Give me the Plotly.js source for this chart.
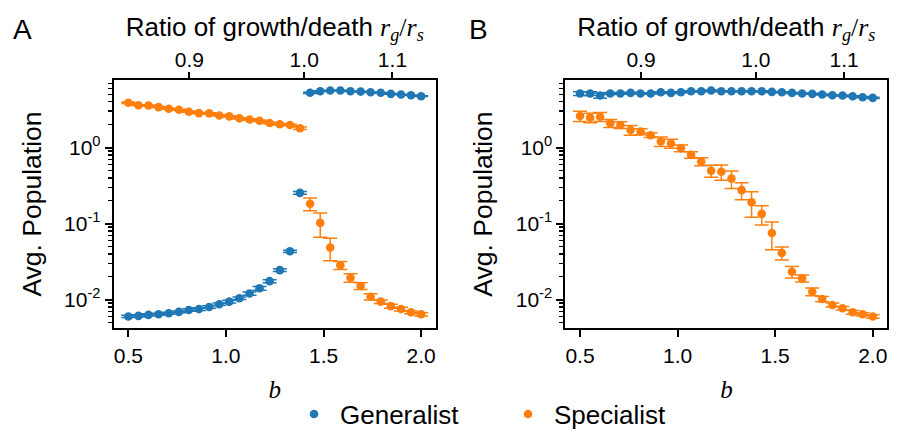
<!DOCTYPE html>
<html>
<head>
<meta charset="utf-8">
<script src="https://cdn.plot.ly/plotly-3.0.1.min.js"></script>
<style>html,body{margin:0;padding:0;background:#fff;}#chart{width:898px;height:438px;}</style>
</head>
<body>
<div id="chart"></div>
<script>
// ---- data ----
const bVals = [0.500,0.552,0.603,0.655,0.707,0.759,0.810,0.862,0.914,0.966,1.017,1.069,1.121,1.172,1.224,1.276,1.328,1.379,1.431,1.483,1.534,1.586,1.638,1.690,1.741,1.793,1.845,1.897,1.948,2.000];

const genA = [0.0060,0.0061,0.0063,0.0064,0.0066,0.0069,0.0073,0.0075,0.0080,0.0087,0.0094,0.0104,0.0120,0.0141,0.0175,0.0244,0.0432,0.253,5.24,5.50,5.61,5.61,5.50,5.44,5.33,5.24,5.08,4.98,4.87,4.73];
const genAErr = [0.0002,0.0002,0.0002,0.0002,0.0002,0.0002,0.0003,0.0003,0.0003,0.0003,0.0004,0.0004,0.0006,0.0008,0.0008,0.0010,0.0015,0.010,0.10,0.06,0.05,0.05,0.05,0.05,0.05,0.05,0.05,0.05,0.05,0.05];
const specA = [3.88,3.60,3.57,3.40,3.24,3.14,2.96,2.83,2.81,2.64,2.57,2.42,2.34,2.25,2.10,2.02,1.98,1.79,0.182,0.102,0.0483,0.0283,0.0194,0.0151,0.0109,0.0094,0.0082,0.0075,0.0068,0.0064];
const specAErr = [0.10,0.05,0.05,0.05,0.05,0.05,0.05,0.05,0.05,0.05,0.05,0.05,0.05,0.05,0.05,0.05,0.05,0.07,0.035,0.036,0.016,0.0035,0.0025,0.0015,0.0010,0.0005,0.0005,0.0004,0.0003,0.0003];

const genB = [5.13,5.13,4.83,5.13,5.13,5.23,5.13,5.13,5.34,5.23,5.34,5.50,5.50,5.61,5.50,5.50,5.50,5.50,5.50,5.39,5.34,5.23,5.13,5.08,4.97,4.87,4.83,4.73,4.59,4.50];
const genBErr = [0.30,0.30,0.40,0.15,0.10,0.10,0.08,0.08,0.08,0.08,0.08,0.08,0.08,0.08,0.08,0.08,0.08,0.08,0.08,0.08,0.08,0.08,0.08,0.08,0.08,0.08,0.08,0.08,0.08,0.08];
const specB = [2.59,2.47,2.54,2.08,1.98,1.70,1.62,1.45,1.20,1.13,0.98,0.80,0.656,0.495,0.48,0.39,0.275,0.191,0.134,0.0751,0.0411,0.0232,0.0190,0.0127,0.0102,0.0085,0.0077,0.0068,0.0064,0.0060];
const specBErr = [0.40,0.35,0.35,0.25,0.20,0.25,0.15,0.10,0.17,0.15,0.10,0.08,0.08,0.09,0.11,0.10,0.07,0.07,0.038,0.030,0.008,0.004,0.002,0.0015,0.0008,0.0005,0.0004,0.0004,0.0003,0.0003];

const xTickVals = [0.5,1.0,1.5,2.0];
const xTickText = ['0.5','1.0','1.5','2.0'];
const ratioTickPos = [0.8125,1.401,1.853];
const ratioTickText = ['0.9','1.0','1.1'];
const yTickVals = [0.01,0.1,1];
const yTickText = ['10<sup>-2</sup>','10<sup>-1</sup>','10<sup>0</sup>'];
const yMinorVals = [0.005,0.006,0.007,0.008,0.009,0.02,0.03,0.04,0.05,0.06,0.07,0.08,0.09,0.2,0.3,0.4,0.5,0.6,0.7,0.8,0.9,2,3,4,5,6,7];

// ---- style ----
const BLUE = '#1f77b4', ORANGE = '#ff7f0e';
const FONT = 'Liberation Sans, Arial, sans-serif';
const SERIF = 'Liberation Serif, DejaVu Serif, serif';

function series(x, y, err, color, name, xa, ya, showlegend) {
  return {
    type: 'scatter', mode: 'markers', x: x, y: y, name: name,
    xaxis: xa, yaxis: ya, showlegend: showlegend, legendgroup: name,
    marker: {color: color, size: 8.6},
    error_y: {type: 'data', array: err, symmetric: true, color: color, thickness: 1.5, width: 7}
  };
}

const traces = [
  series(bVals, genA, genAErr, BLUE, 'Generalist', 'x', 'y', true),
  series(bVals, specA, specAErr, ORANGE, 'Specialist', 'x', 'y', true),
  series(bVals, genB, genBErr, BLUE, 'Generalist', 'x2', 'y2', false),
  series(bVals, specB, specBErr, ORANGE, 'Specialist', 'x2', 'y2', false),
  {type:'scatter', mode:'markers', x: bVals, y: bVals.map(()=>null), xaxis:'x3', yaxis:'y', showlegend:false, hoverinfo:'skip'},
  {type:'scatter', mode:'markers', x: bVals, y: bVals.map(()=>null), xaxis:'x4', yaxis:'y2', showlegend:false, hoverinfo:'skip'}
];

const XR = [0.425, 2.075];
const YR = [-2.38, 0.893];
const domA = [0.1266, 0.4853], domB = [0.6296, 0.9882], domY = [0.2466, 0.8174];

function bottomX(dom, anchor) {
  return {
    domain: dom, anchor: anchor, range: XR, showgrid: false, zeroline: false,
    tickmode: 'array', tickvals: xTickVals, ticktext: xTickText,
    ticks: 'outside', ticklen: 7, tickwidth: 2, tickcolor: '#000',
    showline: true, linewidth: 2, linecolor: '#000', mirror: true,
    tickfont: {family: FONT, size: 21, color: '#000'},
    title: {text: '<i>b</i>', font: {family: SERIF, size: 25, color: '#000'}, standoff: 15}
  };
}
function topX(over, anchor) {
  return {
    overlaying: over, anchor: anchor, side: 'top', range: XR, showgrid: false, zeroline: false,
    tickmode: 'array', tickvals: ratioTickPos, ticktext: ratioTickText,
    ticks: 'outside', ticklen: 7, tickwidth: 2, tickcolor: '#000', showline: false,
    ticklabelstandoff: -4,
    tickfont: {family: FONT, size: 21, color: '#000'},
    title: {text: 'Ratio of growth/death <span style="font-family:Liberation Serif"><i>r</i><sub><i>g</i></sub>/<i>r</i><sub><i>s</i></sub></span>',
            font: {family: FONT, size: 26, color: '#000'}, standoff: 4}
  };
}
function leftY(anchor) {
  return {
    domain: domY, anchor: anchor, type: 'log', range: YR, showgrid: false, zeroline: false,
    tickmode: 'array', tickvals: yTickVals, ticktext: yTickText,
    ticks: 'outside', ticklen: 7, tickwidth: 2, tickcolor: '#000',
    minor: {tickmode: 'array', tickvals: yMinorVals, ticks: 'outside', ticklen: 4, tickwidth: 1.5, tickcolor: '#000', showgrid: false},
    showline: true, linewidth: 2, linecolor: '#000', mirror: true,
    tickfont: {family: FONT, size: 21, color: '#000'},
    title: {text: 'Avg. Population', font: {family: FONT, size: 26.5, color: '#000'}, standoff: 15}
  };
}

const layout = {
  width: 898, height: 438,
  margin: {l: 0, r: 0, t: 0, b: 0},
  paper_bgcolor: '#fff', plot_bgcolor: '#fff',
  font: {family: FONT, color: '#000'},
  xaxis: bottomX(domA, 'y'),
  yaxis: leftY('x'),
  xaxis2: bottomX(domB, 'y2'),
  yaxis2: leftY('x2'),
  xaxis3: topX('x', 'y'),
  xaxis4: topX('x2', 'y2'),
  showlegend: true,
  legend: {orientation: 'h', x: 288/898, xanchor: 'left', y: 1 - 416/438, yanchor: 'middle',
           font: {family: FONT, size: 26, color: '#000'}, bgcolor: 'rgba(0,0,0,0)',
           entrywidth: 157, entrywidthmode: 'pixels', itemwidth: 42},
  annotations: [
    {text: 'A', xref: 'paper', yref: 'paper', x: 22/898, y: 1 - 30/438, xanchor: 'center', yanchor: 'middle', showarrow: false, font: {family: FONT, size: 28, color: '#000'}},
    {text: 'B', xref: 'paper', yref: 'paper', x: 478/898, y: 1 - 30/438, xanchor: 'center', yanchor: 'middle', showarrow: false, font: {family: FONT, size: 28, color: '#000'}}
  ]
};

Plotly.newPlot('chart', traces, layout, {displayModeBar: false, staticPlot: true});
</script>
</body>
</html>
